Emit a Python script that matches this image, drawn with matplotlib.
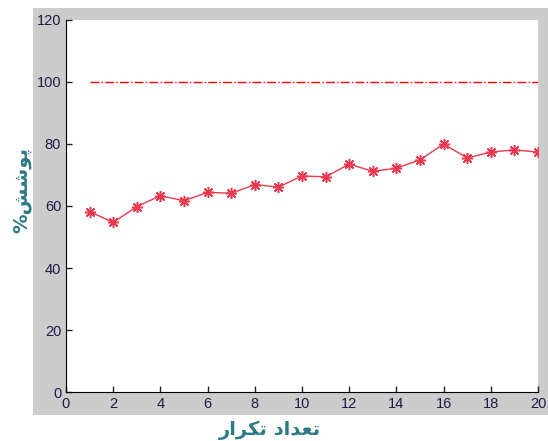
import matplotlib
matplotlib.use("Agg")
import matplotlib.pyplot as plt
from matplotlib.patches import Rectangle

# iterations and coverage values
iterations = list(range(1, 21))
coverage = [58.2, 54.7, 59.8, 63.3, 61.7, 64.4, 64.1, 66.9, 66.1, 69.7,
            69.4, 73.5, 71.2, 72.2, 74.9, 80.0, 75.5, 77.4, 78.1, 77.4]
target_x = [1, 20]
target_y = [100, 100]
x_ticks = list(range(0, 21, 2))
y_ticks = list(range(0, 121, 20))

# Persian labels in presentation forms, visual (left-to-right) order
x_label = "\uFEAD\uFE8D\uFEAE\uFEDC\uFE97 \uFEA9\uFE8D\uFEAA\uFECC\uFE97"  # تعداد تکرار
y_label = "%\uFEB6\uFEB7\uFEEE\uFB58"  # پوشش%

fig = plt.figure(figsize=(5.48, 4.41), dpi=100)
fig.patch.set_facecolor('white')

# grey MATLAB-like frame behind the axes
fig.patches.append(Rectangle((33 / 548, 26 / 441), 1 - 33 / 548, 407 / 441,
                             transform=fig.transFigure, facecolor='#cccccc',
                             edgecolor='none', zorder=-5))

ax = fig.add_axes([66 / 548, 49 / 441, 472 / 548, 372 / 441])
ax.set_zorder(2)
ax.set_facecolor('white')

ax.plot(target_x, target_y, color='#ff0000', linestyle='-.', linewidth=1)
# MATLAB-style asterisk marker (8 spokes)
ax.plot(iterations, coverage, color='#e8394f', linewidth=1,
        marker=(8, 2, 0), markersize=8, markeredgewidth=1.1)

ax.set_xlim(0, 20)
ax.set_ylim(0, 120)
ax.set_xticks(x_ticks)
ax.set_yticks(y_ticks)
ax.spines['top'].set_visible(False)
ax.spines['right'].set_visible(False)
ax.tick_params(direction='in', length=4, width=1, colors='#222222',
               labelcolor='#1c1c48', labelsize=10.5)
for lab in ax.get_xticklabels() + ax.get_yticklabels():
    lab.set_family('Liberation Sans')

fig.text(270 / 548, 1 - 430 / 441, x_label, color='#2c7a86', fontsize=14,
         fontweight='bold', family=['DejaVu Sans'],
         ha='center', va='center', zorder=3)
fig.text(22 / 548, 1 - 190 / 441, y_label, color='#2c7a86', fontsize=14,
         fontweight='bold', family=['DejaVu Sans'],
         rotation=90, ha='center', va='center', zorder=3)

fig.savefig('out.png', dpi=100, facecolor=fig.get_facecolor())
